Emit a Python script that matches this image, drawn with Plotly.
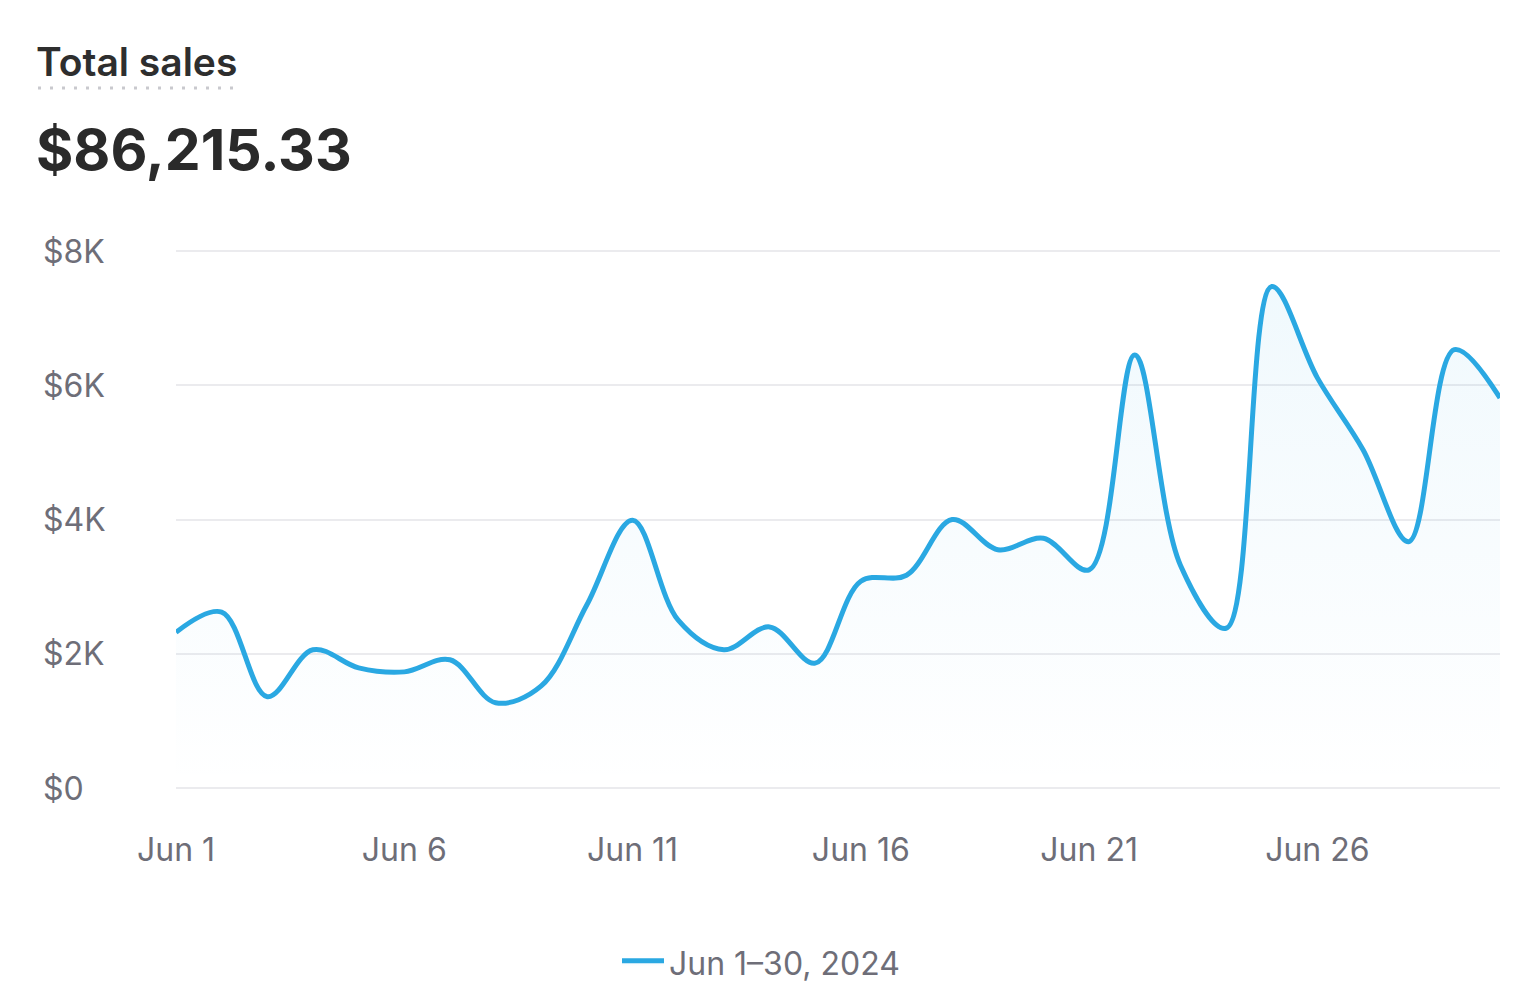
import plotly.graph_objects as go

# ---- data ----
days = list(range(1, 31))
dates = [f"2024-06-{d:02d}" for d in days]
sales = [2320, 2620, 1360, 2060, 1790, 1730, 1910, 1270, 1520, 2730,
         3990, 2500, 2060, 2400, 1860, 3080, 3170, 4000, 3550, 3720,
         3250, 6450, 3320, 2380, 7470, 6110, 5040, 3670, 6530, 5810]
x_tick_days = [1, 6, 11, 16, 21, 26]
x_tick_labels = ["Jun 1", "Jun 6", "Jun 11", "Jun 16", "Jun 21", "Jun 26"]
y_ticks = [0, 2000, 4000, 6000, 8000]
y_tick_labels = ["$0", "$2K", "$4K", "$6K", "$8K"]
title_text = "Total sales"
total_text = "$86,215.33"
series_name = "Jun 1\u201330, 2024"

LINE = "#2AA8E2"
FONT = "Inter, Noto Sans, sans-serif"
TICK_COLOR = "#6E6E78"
GRID = "#EBEBEE"

fig = go.Figure()
fig.add_trace(go.Scatter(
    x=dates, y=sales, mode="lines", name=series_name,
    line=dict(color=LINE, width=5, shape="spline", smoothing=1.0),
    fill="tozeroy",
    fillgradient=dict(type="vertical",
                      colorscale=[[0, "rgba(42,168,226,0.0)"],
                                  [1, "rgba(42,168,226,0.07)"]]),
))

OFF = 8  # page body margin
W, H = 1523 - OFF, 1004 - OFF
L, T = 168, 240
R = W - L - 1324
B = H - 780
pw = W - L - R
ph = H - T - B
Y_TOP = 8000 * ph / 537.0

def px_x(page_px):
    return (page_px - OFF - L) / pw

def px_y(page_py):
    return (H - B - (page_py - OFF)) / ph

annotations = []
for v, lab in zip(y_ticks, y_tick_labels):
    annotations.append(dict(
        x=px_x(41), xref="paper", y=v, yref="y", text=lab, showarrow=False,
        xanchor="left", yanchor="middle",
        font=dict(family=FONT, size=32, color=TICK_COLOR)))
annotations.append(dict(
    x=px_x(34), xref="paper", y=px_y(62), yref="paper", text=title_text,
    showarrow=False, xanchor="left", yanchor="middle",
    font=dict(family=FONT, size=39, color="#2E2E2E", weight=600)))
annotations.append(dict(
    x=px_x(34), xref="paper", y=px_y(150), yref="paper", text=total_text,
    showarrow=False, xanchor="left", yanchor="middle",
    font=dict(family=FONT, size=57, color="#2A2A2A", weight=700)))

shapes = [dict(type="line", xref="paper", yref="paper",
               x0=px_x(38), x1=px_x(236), y0=px_y(88), y1=px_y(88),
               line=dict(color="#C9C9CE", width=3, dash="3px,9px"))]

fig.update_layout(
    width=W, height=H,
    margin=dict(l=L, r=R, t=T, b=B),
    paper_bgcolor="white", plot_bgcolor="white",
    font=dict(family=FONT, color=TICK_COLOR),
    showlegend=True,
    legend=dict(orientation="h", x=px_x(761), xanchor="center",
                y=px_y(963), yanchor="middle", itemwidth=42,
                font=dict(family=FONT, size=32, color=TICK_COLOR)),
    annotations=annotations,
    shapes=shapes,
)
fig.update_xaxes(
    range=[dates[0], dates[-1]],
    tickvals=[f"2024-06-{d:02d}" for d in x_tick_days],
    ticktext=x_tick_labels,
    showgrid=False, zeroline=False, showline=False,
    ticks="", ticklabelstandoff=40,
    tickfont=dict(family=FONT, size=32, color=TICK_COLOR),
)
fig.update_yaxes(
    range=[0, Y_TOP], tickvals=y_ticks, showticklabels=False,
    showgrid=True, gridcolor=GRID, gridwidth=2,
    zeroline=True, zerolinecolor=GRID, zerolinewidth=2, showline=False,
)

fig.write_html("out.html")
